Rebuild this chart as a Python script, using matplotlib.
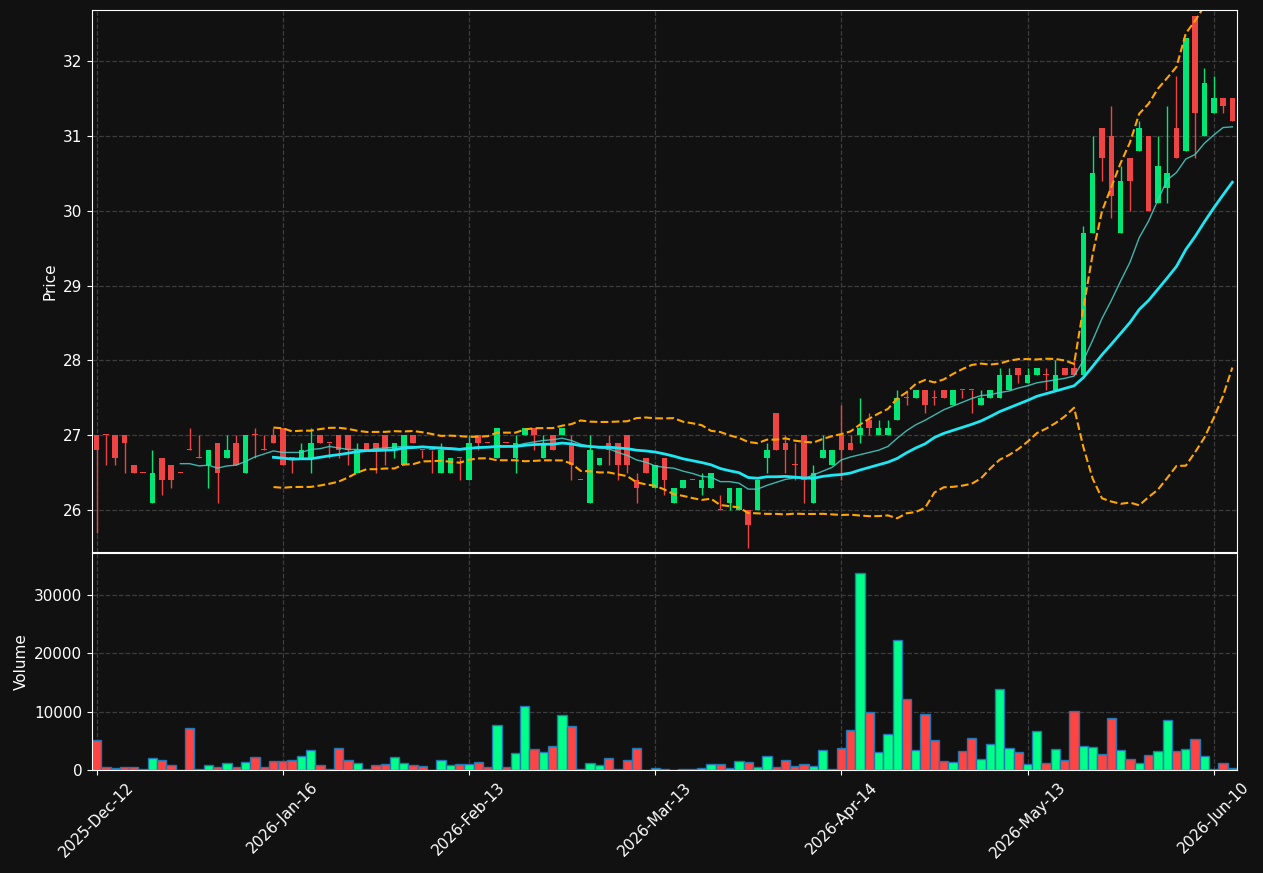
import numpy as np
import pandas as pd
import matplotlib
matplotlib.use('Agg')
import matplotlib.pyplot as plt

# OHLC, one entry per trading day
opens = [27.0, 27.0, 27.0, 27.0, 26.6, 26.5, 26.1, 26.7, 26.6, 26.5,
         26.8, 26.7, 26.6, 26.9, 26.7, 26.9, 26.5, 27.0, 26.8, 27.0,
         27.1, 26.7, 26.7, 26.7, 27.0, 26.9, 27.0, 27.0, 26.5, 26.9,
         26.9, 27.0, 26.8, 26.6, 27.0, 26.8, 26.8, 26.5, 26.5, 26.7,
         26.4, 27.0, 26.9, 26.7, 26.9, 26.7, 27.0, 27.1, 26.7, 27.0,
         27.0, 26.9, 26.4, 26.1, 26.6, 26.9, 26.9, 27.0, 26.4, 26.7,
         26.3, 26.7, 26.1, 26.3, 26.4, 26.3, 26.3, 26.0, 26.1, 26.0,
         26.0, 26.0, 26.7, 27.3, 26.9, 26.6, 27.0, 26.1, 26.7, 26.6,
         27.0, 26.9, 27.0, 27.2, 27.0, 27.0, 27.2, 27.5, 27.5, 27.6,
         27.5, 27.6, 27.4, 27.6, 27.6, 27.4, 27.5, 27.5, 27.6, 27.9,
         27.7, 27.8, 27.8, 27.6, 27.9, 27.9, 27.8, 29.7, 31.1, 31.0,
         29.7, 30.7, 30.8, 31.0, 30.1, 30.3, 31.1, 30.8, 32.6, 31.0,
         31.3, 31.5, 31.5]
highs = [27.0, 27.0, 27.0, 27.0, 26.6, 26.5, 26.8, 26.7, 26.6, 26.5,
         27.1, 27.0, 26.8, 26.9, 27.0, 27.0, 27.0, 27.1, 27.0, 27.1,
         27.1, 26.7, 26.9, 27.1, 27.0, 26.9, 27.0, 27.0, 26.9, 26.9,
         26.9, 27.0, 26.9, 27.0, 27.0, 26.8, 26.8, 26.9, 26.7, 26.7,
         27.0, 27.0, 26.9, 27.1, 26.9, 27.0, 27.1, 27.1, 27.0, 27.0,
         27.1, 27.0, 26.4, 27.0, 26.7, 27.0, 26.9, 27.0, 26.5, 26.7,
         26.6, 26.7, 26.3, 26.4, 26.4, 26.5, 26.5, 26.2, 26.3, 26.3,
         26.0, 26.4, 26.9, 27.3, 27.0, 26.9, 27.0, 26.6, 27.0, 26.8,
         27.4, 27.0, 27.5, 27.3, 27.2, 27.2, 27.6, 27.6, 27.6, 27.6,
         27.6, 27.6, 27.6, 27.6, 27.6, 27.6, 27.6, 27.9, 27.9, 27.9,
         27.9, 27.9, 27.9, 28.0, 27.9, 28.0, 29.8, 31.0, 31.1, 31.4,
         30.6, 30.7, 31.2, 31.0, 31.0, 31.4, 31.8, 32.3, 32.6, 31.9,
         31.8, 31.5, 31.5]
lows = [25.7, 26.6, 26.6, 26.5, 26.5, 26.5, 26.1, 26.2, 26.3, 26.5,
        26.8, 26.7, 26.3, 26.1, 26.7, 26.6, 26.5, 26.7, 26.8, 26.9,
        26.6, 26.5, 26.7, 26.5, 26.9, 26.7, 26.7, 26.6, 26.5, 26.8,
        26.5, 26.6, 26.7, 26.6, 26.9, 26.7, 26.5, 26.5, 26.5, 26.4,
        26.4, 26.8, 26.9, 26.7, 26.9, 26.5, 27.0, 26.8, 26.7, 26.8,
        27.0, 26.4, 26.4, 26.1, 26.6, 26.6, 26.4, 26.5, 26.1, 26.5,
        26.3, 26.2, 26.1, 26.3, 26.4, 26.2, 26.3, 26.0, 26.0, 26.0,
        25.5, 26.0, 26.5, 26.8, 26.5, 26.4, 26.1, 26.1, 26.7, 26.6,
        26.4, 26.8, 26.9, 27.0, 27.0, 27.0, 27.2, 27.4, 27.5, 27.3,
        27.4, 27.5, 27.4, 27.5, 27.3, 27.4, 27.5, 27.5, 27.6, 27.7,
        27.7, 27.8, 27.6, 27.6, 27.8, 27.8, 27.8, 29.7, 30.4, 29.9,
        29.7, 30.0, 30.8, 30.0, 30.1, 30.1, 30.7, 30.8, 30.7, 31.0,
        31.3, 31.3, 31.2]
closes = [26.8, 27.0, 26.7, 26.9, 26.5, 26.5, 26.5, 26.4, 26.4, 26.5,
          26.8, 26.7, 26.8, 26.5, 26.8, 26.6, 27.0, 27.0, 26.8, 26.9,
          26.6, 26.7, 26.8, 26.9, 26.9, 26.9, 26.8, 26.8, 26.8, 26.8,
          26.8, 26.8, 26.9, 27.0, 26.9, 26.8, 26.8, 26.8, 26.7, 26.7,
          26.9, 26.9, 26.9, 27.1, 26.9, 26.9, 27.1, 27.0, 26.9, 26.8,
          27.1, 26.6, 26.4, 26.8, 26.7, 26.8, 26.6, 26.6, 26.3, 26.5,
          26.6, 26.4, 26.3, 26.4, 26.4, 26.4, 26.5, 26.0, 26.3, 26.3,
          25.8, 26.4, 26.8, 26.8, 26.8, 26.6, 26.4, 26.5, 26.8, 26.8,
          26.8, 26.8, 27.1, 27.1, 27.1, 27.1, 27.5, 27.5, 27.6, 27.4,
          27.5, 27.5, 27.6, 27.6, 27.6, 27.5, 27.6, 27.8, 27.8, 27.8,
          27.8, 27.9, 27.8, 27.8, 27.8, 27.8, 29.7, 30.5, 30.7, 30.2,
          30.4, 30.4, 31.1, 30.0, 30.6, 30.5, 30.7, 32.3, 31.3, 31.7,
          31.5, 31.4, 31.2]
volumes = [5100, 570, 290, 570, 570, 100, 2000, 1660, 800, 0,
           7160, 100, 800, 570, 1150, 570, 1320, 2180, 460, 1490,
           1490, 1660, 2350, 3380, 800, 100, 3720, 1660, 1150, 100,
           800, 970, 2180, 1150, 800, 630, 0, 1660, 800, 970,
           970, 1320, 570, 7680, 460, 2870, 10950, 3550, 3040, 4070,
           9400, 7500, 100, 1150, 800, 2000, 100, 1660, 3720, 50,
           290, 100, 0, 100, 100, 290, 970, 970, 290, 1490,
           1320, 460, 2350, 460, 1660, 630, 970, 630, 3380, 100,
           3720, 6820, 33800, 9900, 3040, 6130, 22300, 12150, 3380, 9570,
           5100, 1490, 1320, 3210, 5440, 1830, 4410, 13870, 3720, 3040,
           970, 6650, 1150, 3550, 1660, 10090, 4070, 3900, 2690, 8880,
           3380, 1830, 1150, 2520, 3210, 8540, 3210, 3550, 5270, 2350,
           100, 1150, 290]
tick_labels = ['2025-Dec-12', '2026-Jan-16', '2026-Feb-13', '2026-Mar-13',
               '2026-Apr-14', '2026-May-13', '2026-Jun-10']

o = np.array(opens)
h = np.array(highs)
l = np.array(lows)
c = np.array(closes)
v = np.array(volumes)
x = np.arange(len(c))
up = c > o

s = pd.Series(c)
ma10 = s.rolling(10).mean()
ma20 = s.rolling(20).mean()
sd20 = s.rolling(20).std(ddof=0)
bb_up = ma20 + 2 * sd20
bb_lo = ma20 - 2 * sd20

bg = '#111111'
green = '#00e676'
red = '#ef4444'

fig = plt.figure(figsize=(12.63, 8.73), dpi=100, facecolor=bg)
ax = fig.add_axes([0.0728, 0.3677, 0.9066, 0.6208])
axv = fig.add_axes([0.0728, 0.118, 0.9066, 0.2486], sharex=ax)

for a in (ax, axv):
    a.set_facecolor(bg)
    for sp in a.spines.values():
        sp.set_color('white')
    a.tick_params(colors='white', labelsize=11)
    a.grid(True, color='#3c3c3c', linestyle='--', linewidth=0.9)
    a.set_axisbelow(True)

# candles
colors = np.where(up, green, red)
ax.vlines(x, l, h, colors=colors, linewidth=1)
body = np.maximum(np.abs(c - o), 0.012)
ax.bar(x, body, bottom=np.minimum(o, c), width=0.6, color=colors, linewidth=0)

# moving averages and bollinger bands
ax.plot(x, ma10, color='#48d1c8', linewidth=1, alpha=0.85)
ax.plot(x, ma20, color='#1ee6f2', linewidth=2)
ax.plot(x, bb_up, color='orange', linestyle='--', linewidth=1.5)
ax.plot(x, bb_lo, color='orange', linestyle='--', linewidth=1.5)

ax.set_ylim(25.44, 32.68)
ax.set_ylabel('Price', color='white', fontsize=11)
plt.setp(ax.get_xticklabels(), visible=False)
ax.tick_params(axis='x', length=0)

# volume
vcol = np.where(up, '#00ff88', '#ff4444')
axv.bar(x, v, width=1.0, color=vcol, edgecolor='#1f77b4', linewidth=1)
axv.set_ylim(0, v.max() * 1.1)
axv.set_ylabel('Volume', color='white', fontsize=11)
axv.ticklabel_format(axis='y', style='plain')

axv.set_xlim(-0.5, len(c) - 0.5)
axv.set_xticks(np.arange(0, len(c), 20))
axv.set_xticklabels(tick_labels, rotation=45)

plt.savefig('out.png', dpi=100, facecolor=bg)
